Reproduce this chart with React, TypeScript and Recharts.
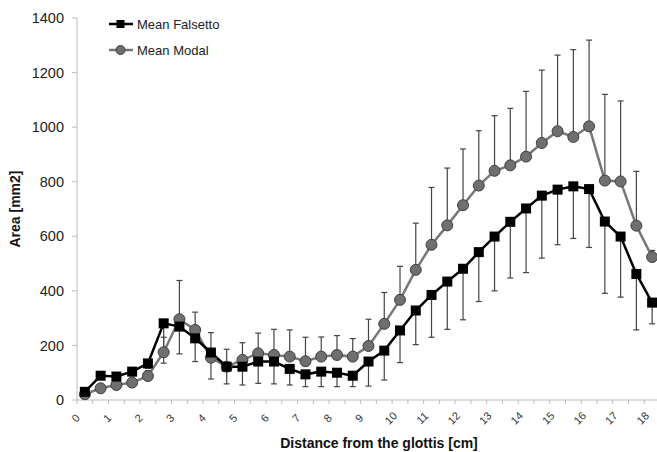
import { LineChart, Line, XAxis, YAxis, ErrorBar, Legend } from 'recharts';

// distance from the glottis [cm], centre of each 0.5 cm slice
const distance = [
  0.25, 0.75, 1.25, 1.75, 2.25, 2.75, 3.25, 3.75, 4.25, 4.75, 5.25, 5.75, 6.25, 6.75, 7.25, 7.75, 8.25, 8.75,
  9.25, 9.75, 10.25, 10.75, 11.25, 11.75, 12.25, 12.75, 13.25, 13.75, 14.25, 14.75, 15.25, 15.75, 16.25, 16.75,
  17.25, 17.75, 18.25,
];

const falsettoMean = [
  30, 89, 86, 104, 134, 281, 269, 226, 174, 122, 122, 141, 141, 114, 94, 104, 100, 89,
  141, 181, 255, 328, 385, 434, 481, 542, 599, 653, 702, 749, 771, 783, 773, 654,
  599, 462, 357,
];
const falsettoSd = [
  10, 12, 14, 15, 18, 146, 100, 85, 97, 63, 67, 80, 82, 59, 45, 55, 51, 40,
  90, 108, 118, 125, 155, 175, 187, 181, 199, 206, 235, 229, 202, 191, 214, 263,
  222, 205, 78,
];

const modalMean = [
  21, 43, 55, 64, 88, 175, 296, 257, 155, 122, 147, 171, 165, 159, 142, 159, 165, 159,
  198, 279, 367, 477, 569, 640, 714, 786, 840, 860, 892, 942, 985, 964, 1003, 804,
  801, 639, 524,
];
const modalSd = [
  8, 10, 12, 14, 20, 55, 142, 65, 92, 64, 63, 74, 94, 98, 88, 72, 71, 66,
  98, 115, 123, 171, 210, 210, 206, 201, 202, 209, 239, 267, 279, 320, 316, 316,
  295, 199, 24,
];

const xTicks = [
  0, 0.5, 1, 1.5, 2, 2.5, 3, 3.5, 4, 4.5, 5, 5.5, 6, 6.5, 7, 7.5, 8, 8.5, 9, 9.5,
  10, 10.5, 11, 11.5, 12, 12.5, 13, 13.5, 14, 14.5, 15, 15.5, 16, 16.5, 17, 17.5, 18, 18.5,
];
const yTicks = [0, 200, 400, 600, 800, 1000, 1200, 1400];

const seriesNames = ['Mean Falsetto', 'Mean Modal'];

const data = distance.map((d, i) => ({
  d,
  falsetto: falsettoMean[i],
  falsettoErr: [falsettoSd[i], 0],
  modal: modalMean[i],
  modalErr: [0, modalSd[i]],
}));

const FONT = '"Liberation Sans", Arial, sans-serif';
const AXIS = '#bdbdbd';

const XTick = ({ x, payload }: any) => {
  const v = payload.value;
  if (!Number.isInteger(v)) return null;
  const tx = x - 1.5;
  const ty = 418;
  return (
    <g transform={`translate(${tx}, ${ty}) rotate(-45)`}>
      <text x={0} y={0} fontSize={11} fontFamily={FONT} fill="#333" textAnchor="middle" dominantBaseline="central">
        {v}
      </text>
    </g>
  );
};

const XLabel = () => (
  <text x={379} y={448} textAnchor="middle" fontSize={14} fontWeight="bold" fontFamily={FONT} fill="#111">
    Distance from the glottis [cm]
  </text>
);

const YLabel = ({ viewBox }: any) => {
  const x = 20;
  const y = viewBox.y + viewBox.height / 2;
  return (
    <text x={x} y={y} textAnchor="middle" fontSize={14} fontWeight="bold" fontFamily={FONT} fill="#111"
      transform={`rotate(-90, ${x}, ${y})`}>
      Area [mm2]
    </text>
  );
};

const SquareDot = ({ cx, cy }: any) => {
  if (cx == null || cy == null) return null;
  return <rect x={cx - 5} y={cy - 5} width={10} height={10} fill="#000" />;
};

const LegendContent = () => (
  <div style={{ fontFamily: FONT, fontSize: 13, color: '#222' }}>
    {seriesNames.map((name, i) => (
      <div key={name} style={{ display: 'flex', alignItems: 'center', height: 26 }}>
        <svg width={25} height={12} style={{ marginRight: 3 }}>
          <line x1={0} y1={6} x2={24} y2={6} stroke={i === 0 ? '#000' : '#777'} strokeWidth={2.5} />
          {i === 0 ? (
            <rect x={7.5} y={2} width={8} height={8} fill="#000" />
          ) : (
            <circle cx={11.5} cy={6} r={4.5} fill="#6f6f6f" stroke="#3f3f3f" strokeWidth={1} />
          )}
        </svg>
        <span>{name}</span>
      </div>
    ))}
  </div>
);

export default function App() {
  return (
    <div style={{ position: 'absolute', left: 0, top: 0, width: 657, height: 452, overflow: 'hidden', background: '#fff' }}>
      <LineChart width={680} height={452} data={data} margin={{ top: 18, right: 20, left: 0, bottom: 0 }}>
        <XAxis
          type="number"
          dataKey="d"
          domain={[0, 18.5]}
          ticks={xTicks}
          interval={0}
          height={52}
          stroke={AXIS}
          tickSize={4}
          tick={<XTick />}
          label={<XLabel />}
          allowDataOverflow
        />
        <YAxis
          type="number"
          domain={[0, 1400]}
          ticks={yTicks}
          width={77}
          stroke={AXIS}
          tickSize={5}
          tickMargin={8}
          tick={{ fontSize: 14.5, fontFamily: FONT, fill: '#222' }}
          label={<YLabel />}
        />
        <Legend
          layout="horizontal"
          verticalAlign="middle"
          align="center"
          content={<LegendContent />}
          wrapperStyle={{ top: 11, left: 109, width: 'auto', height: 'auto' }}
        />
        <Line
          dataKey="modal"
          name="Mean Modal"
          stroke="#777"
          strokeWidth={2.5}
          dot={{ r: 5.5, fill: '#6f6f6f', stroke: '#3f3f3f', strokeWidth: 1 }}
          activeDot={false}
          isAnimationActive={false}
        >
          <ErrorBar dataKey="modalErr" direction="y" width={3} stroke="#444" strokeWidth={1.2} isAnimationActive={false} />
        </Line>
        <Line
          dataKey="falsetto"
          name="Mean Falsetto"
          stroke="#000"
          strokeWidth={2.5}
          dot={(p: any) => <SquareDot key={`sq-${p.index}`} {...p} />}
          activeDot={false}
          isAnimationActive={false}
        >
          <ErrorBar dataKey="falsettoErr" direction="y" width={3} stroke="#444" strokeWidth={1.2} isAnimationActive={false} />
        </Line>
      </LineChart>
    </div>
  );
}
